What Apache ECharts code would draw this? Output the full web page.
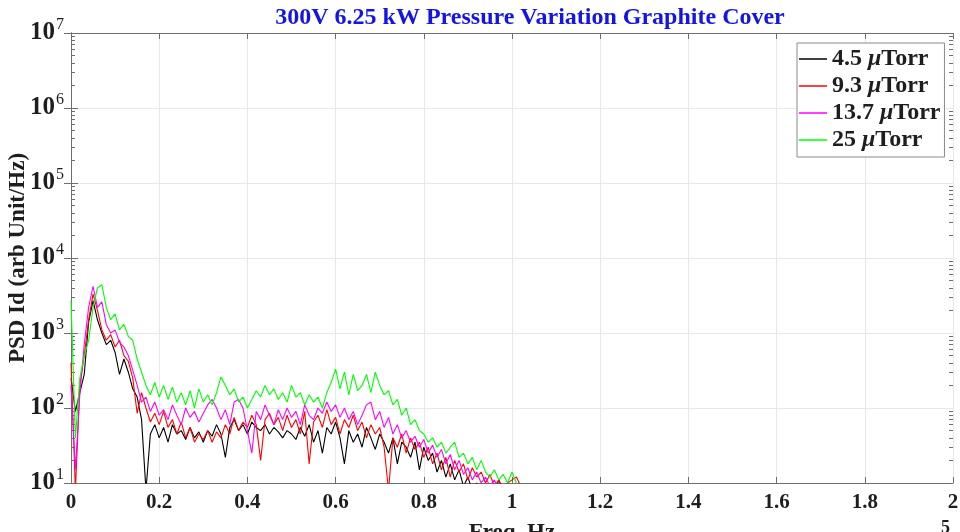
<!DOCTYPE html>
<html>
<head>
<meta charset="utf-8">
<title>PSD Pressure Variation</title>
<script src="https://cdn.jsdelivr.net/npm/echarts@6/dist/echarts.min.js"></script>
<style>
  html, body { margin: 0; padding: 0; background: #fff; }
  #chart { width: 960px; height: 532px; }
</style>
</head>
<body>
<div id="chart"></div>
<script>
// frequency axis is in units of 1e5 Hz, one sample every 0.01
const freqStep = 0.01;

// 4.5 uTorr
const psd45 = [250, 90, 160, 280, 1400, 2700, 1500, 1000, 700, 800,
  550, 280, 450, 300, 180, 140, 70, 8, 45, 60,
  40, 55, 35, 60, 45, 50, 38, 55, 40, 48,
  35, 50, 42, 60, 45, 22, 55, 70, 50, 60,
  45, 65, 55, 50, 60, 45, 55, 48, 40, 50,
  45, 38, 55, 42, 60, 35, 50, 25, 55, 45,
  65, 40, 18, 50, 35, 45, 30, 55, 40, 28,
  45, 35, 25, 40, 18, 35, 30, 22, 35, 15,
  30, 20, 25, 14, 20, 12, 18, 11, 15, 9,
  12, 8, 10, 7, 9, 8, 7, 11, 8, 6,
  5, 5, 5];
// 9.3 uTorr
const psd93 = [400, 8, 200, 500, 1500, 3300, 2000, 1100, 800, 950,
  650, 800, 500, 420, 250, 85, 160, 100, 65, 85,
  60, 90, 55, 70, 45, 65, 40, 55, 35, 45,
  38, 50, 35, 48, 40, 60, 45, 75, 50, 65,
  55, 80, 60, 20, 70, 85, 60, 75, 50, 80,
  55, 70, 45, 90, 18, 65, 80, 55, 95, 60,
  75, 45, 70, 55, 80, 50, 65, 40, 60, 45,
  55, 30, 8, 40, 30, 45, 25, 40, 28, 35,
  22, 30, 18, 25, 15, 22, 12, 20, 14, 18,
  11, 16, 12, 14, 10, 13, 9, 11, 8, 10,
  11, 12, 9];
// 13.7 uTorr
const psd137 = [200, 15, 150, 700, 2200, 4200, 2200, 2600, 1300, 1000,
  1100, 750, 650, 500, 320, 200, 120, 140, 90, 120,
  80, 95, 70, 110, 80, 60, 100, 75, 90, 65,
  85, 110, 130, 100, 70, 95, 60, 120, 130, 100,
  50, 25, 90, 70, 110, 80, 60, 95, 70, 100,
  75, 90, 60, 110, 80, 70, 100, 85, 120, 90,
  110, 75, 100, 70, 90, 60, 80, 110, 120, 70,
  90, 55, 75, 45, 60, 40, 50, 35, 42, 30,
  38, 25, 32, 22, 28, 18, 24, 15, 20, 13,
  16, 11, 14, 10, 12, 9, 11, 8, 7, 6,
  5, 5, 5];
// 25 uTorr
const psd25 = [2700, 40, 250, 500, 800, 2200, 4000, 4400, 2200, 1500,
  1800, 1100, 1300, 900, 800, 450, 300, 200, 150, 220,
  140, 200, 130, 190, 120, 160, 110, 170, 100, 180,
  120, 150, 110, 160, 260, 200, 150, 180, 120, 140,
  100, 130, 170, 140, 200, 150, 180, 130, 160, 120,
  200, 140, 160, 110, 150, 120, 140, 100, 160, 220,
  330, 180, 300, 150, 280, 170, 200, 280, 160, 300,
  200, 150, 170, 110, 130, 80, 100, 60, 70, 50,
  45, 35, 40, 30, 35, 25, 30, 35, 22, 25,
  18, 22, 15, 20, 14, 12, 15, 11, 13, 10,
  14, 10, 8];

const seriesNames = ['4.5 μTorr', '9.3 μTorr', '13.7 μTorr', '25 μTorr'];
const seriesColors = ['#000000', '#ff0000', '#ff00ff', '#00ff00'];
const seriesValues = [psd45, psd93, psd137, psd25];

// log minor tick positions (2..9 within every decade), in exponent units
const minorTicks = [];
for (let d = 1; d < 7; d++) {
  for (let m = 2; m <= 9; m++) minorTicks.push(d + Math.log10(m));
}

const serif = 'Liberation Serif';
const tickColor = '#6e6e6e';
const textColor = '#1e1e1e';

const chart = echarts.init(document.getElementById('chart'));

const series = seriesValues.map((vals, k) => ({
  name: seriesNames[k],
  type: 'line',
  xAxisIndex: 0,
  yAxisIndex: 0,
  data: vals.map((v, i) => [+(i * freqStep).toFixed(2), v]),
  showSymbol: false,
  symbol: 'none',
  lineStyle: { width: 1.1, color: seriesColors[k] },
  itemStyle: { color: seriesColors[k] },
  clip: true,
  z: 2 + k
}));

chart.setOption({
  animation: false,
  title: {
    text: '300V 6.25 kW Pressure Variation Graphite Cover',
    left: 525,
    textAlign: 'center',
    top: 1,
    textStyle: { fontFamily: serif, fontWeight: 'bold', fontSize: 24, color: '#1414e6' }
  },
  legend: {
    orient: 'vertical',
    left: 797,
    top: 43,
    itemWidth: 28,
    itemHeight: 1.5,
    itemGap: 3,
    icon: 'rect',
    padding: [4, 4, 5, 2],
    borderColor: '#8a8a8a',
    borderWidth: 1,
    backgroundColor: '#fff',
    data: seriesNames,
    formatter: name => {
      const p = name.split('μ');
      return '{n|' + p[0] + '}{mu|μ}{n|' + p[1] + '}';
    },
    textStyle: {
      padding: [0, 0, 0, 0],
      rich: {
        n: { fontFamily: serif, fontWeight: 'bold', fontSize: 24, lineHeight: 24, color: textColor },
        mu: { fontFamily: serif, fontStyle: 'italic', fontWeight: 'bold', fontSize: 24, lineHeight: 24, color: textColor }
      }
    }
  },
  grid: { left: 71, right: 7, top: 33, bottom: 49, containLabel: false, outerBoundsMode: 'none' },
  xAxis: [
    {
      type: 'value', min: 0, max: 2, interval: 0.2,
      name: 'Freq, Hz', nameLocation: 'middle', nameGap: 39, nameMoveOverlap: false,
      nameTextStyle: { fontFamily: serif, fontWeight: 'bold', fontSize: 23, color: textColor },
      axisLine: { show: true, lineStyle: { color: tickColor, width: 1 } },
      axisTick: { show: true, inside: true, length: 6, lineStyle: { color: tickColor } },
      axisLabel: {
        margin: 9,
        fontFamily: serif, fontWeight: 'bold', fontSize: 21, color: textColor,
        formatter: v => String(+v.toFixed(1))
      },
      splitLine: { show: true, lineStyle: { color: '#e8e8e8', width: 1 } }
    },
    {
      type: 'value', min: 0, max: 2, interval: 0.2, position: 'top',
      axisLine: { show: true, lineStyle: { color: tickColor, width: 1 } },
      axisTick: { show: true, inside: true, length: 6, lineStyle: { color: tickColor } },
      axisLabel: { show: false },
      splitLine: { show: false }
    }
  ],
  yAxis: [
    {
      type: 'log', logBase: 10, min: 10, max: 1e7, splitNumber: 6,
      name: 'PSD Id (arb Unit/Hz)', nameLocation: 'middle', nameGap: 41, nameMoveOverlap: false,
      nameTextStyle: { fontFamily: serif, fontWeight: 'bold', fontSize: 23, color: textColor },
      axisLine: { show: true, lineStyle: { color: tickColor, width: 1 } },
      axisTick: { show: true, inside: true, length: 7, lineStyle: { color: tickColor } },
      minorTick: { show: false },
      axisLabel: {
        margin: 7,
        formatter: v => '{b|10}{s|' + Math.round(Math.log10(v)) + '}',
        rich: {
          b: { fontFamily: serif, fontWeight: 'bold', fontSize: 25, color: textColor },
          s: { fontFamily: serif, fontSize: 16, color: textColor, verticalAlign: 'bottom', padding: [0, 0, 16, 1] }
        }
      },
      splitLine: { show: true, lineStyle: { color: '#e8e8e8', width: 1 } }
    },
    {
      type: 'log', logBase: 10, min: 10, max: 1e7, splitNumber: 6, position: 'right',
      axisLine: { show: true, lineStyle: { color: tickColor, width: 1 } },
      axisTick: { show: true, inside: true, length: 7, lineStyle: { color: tickColor } },
      axisLabel: { show: false },
      splitLine: { show: false }
    },
    {
      type: 'value', min: 1, max: 7, position: 'left',
      axisLine: { show: false },
      axisTick: { show: true, inside: true, length: 4, customValues: minorTicks, lineStyle: { color: tickColor } },
      axisLabel: { show: false },
      splitLine: { show: false }
    },
    {
      type: 'value', min: 1, max: 7, position: 'right',
      axisLine: { show: false },
      axisTick: { show: true, inside: true, length: 4, customValues: minorTicks, lineStyle: { color: tickColor } },
      axisLabel: { show: false },
      splitLine: { show: false }
    }
  ],
  graphic: [
    {
      type: 'text', left: 941, top: 519,
      style: { text: '5', fontFamily: serif, fontWeight: 'bold', fontSize: 18, fill: textColor }
    }
  ],
  series: series
});
</script>
</body>
</html>
